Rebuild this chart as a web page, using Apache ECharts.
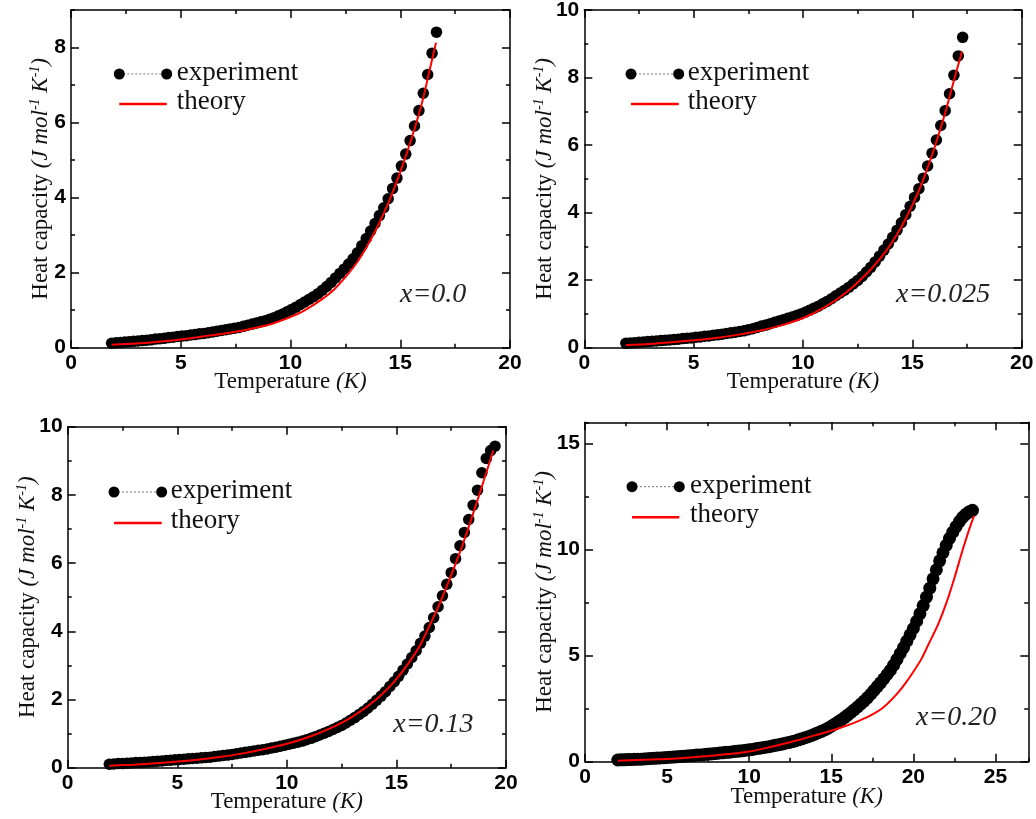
<!DOCTYPE html>
<html><head><meta charset="utf-8">
<script src="https://cdn.jsdelivr.net/npm/echarts@6/dist/echarts.min.js"></script>
<style>html,body{margin:0;padding:0;background:#fff}#c{width:1036px;height:819px}</style>
</head><body><div id="c"></div>
<script>
// ---------- data ----------
const legendNames = ['experiment', 'theory'];
const noteLabels = ['x=0.0', 'x=0.025', 'x=0.13', 'x=0.20'];
const xAxisTitle = 'Temperature';
const yAxisTitle = 'Heat capacity';

// panel 1 : x = 0.0
const tExp1 = [1.85,2.05,2.25,2.45,2.65,2.85,3.05,3.25,3.45,3.65,3.85,4.05,4.25,4.45,4.65,4.85,5.05,5.25,5.45,5.65,
  5.85,6.05,6.25,6.45,6.65,6.85,7.05,7.25,7.45,7.65,7.85,8.05,8.25,8.45,8.65,8.85,9.05,9.25,9.45,9.65,
  9.85,10.05,10.25,10.45,10.65,10.85,11.05,11.25,11.45,11.65,11.85,12.05,12.25,12.45,12.65,12.85,13.05,13.25,13.45,13.65,
  13.85,14.05,14.25,14.45,14.65,14.85,15.05,15.25,15.45,15.65,15.85,16.05,16.25,16.45,16.65];
const cExp1 = [0.12,0.13,0.14,0.15,0.16,0.17,0.18,0.19,0.20,0.21,0.23,0.24,0.25,0.27,0.28,0.30,0.31,0.32,0.34,0.35,
  0.37,0.38,0.40,0.42,0.44,0.46,0.48,0.50,0.52,0.54,0.57,0.60,0.63,0.66,0.69,0.72,0.76,0.80,0.85,0.90,
  0.96,1.02,1.08,1.15,1.22,1.29,1.36,1.44,1.53,1.63,1.74,1.86,1.98,2.10,2.23,2.37,2.53,2.72,2.91,3.11,
  3.31,3.52,3.73,3.97,4.24,4.52,4.84,5.16,5.52,5.91,6.32,6.78,7.28,7.85,8.41];
const tTh1 = [1.85,3,4,5,6,7,8,9,10,10.5,11,11.5,12,12.5,13,13.5,14,14.5,15,15.5,16,16.3,16.63];
const cTh1 = [0.08,0.11,0.16,0.22,0.30,0.38,0.48,0.61,0.82,0.95,1.12,1.32,1.56,1.88,2.25,2.72,3.27,3.92,4.68,5.55,6.55,7.30,8.13];

// panel 2 : x = 0.025
const tExp2 = [1.9,2.1,2.3,2.5,2.7,2.9,3.1,3.3,3.5,3.7,3.9,4.1,4.3,4.5,4.7,4.9,5.1,5.3,5.5,5.7,
  5.9,6.1,6.3,6.5,6.7,6.9,7.1,7.3,7.5,7.7,7.9,8.1,8.3,8.5,8.7,8.9,9.1,9.3,9.5,9.7,
  9.9,10.1,10.3,10.5,10.7,10.9,11.1,11.3,11.5,11.7,11.9,12.1,12.3,12.5,12.7,12.9,13.1,13.3,13.5,13.7,
  13.9,14.1,14.3,14.5,14.7,14.9,15.1,15.3,15.5,15.7,15.9,16.1,16.3,16.5,16.7,16.9,17.1,17.3];
const cExp2 = [0.13,0.14,0.15,0.16,0.17,0.18,0.19,0.20,0.21,0.22,0.23,0.24,0.25,0.27,0.28,0.29,0.31,0.32,0.34,0.35,
  0.37,0.38,0.40,0.42,0.44,0.46,0.48,0.50,0.53,0.56,0.60,0.64,0.67,0.71,0.75,0.79,0.83,0.87,0.91,0.95,
  1.00,1.05,1.11,1.17,1.23,1.30,1.37,1.45,1.54,1.62,1.70,1.79,1.89,1.99,2.11,2.24,2.38,2.54,2.71,2.89,
  3.07,3.27,3.48,3.70,3.94,4.19,4.45,4.71,5.02,5.38,5.76,6.15,6.58,7.02,7.52,8.07,8.64,9.19];
const tTh2 = [1.9,3,4,5,6,7,8,9,10,11,12,13,13.5,14,14.5,15,15.5,16,16.5,17,17.27];
const cTh2 = [0.08,0.11,0.16,0.22,0.29,0.38,0.50,0.66,0.88,1.20,1.65,2.25,2.62,3.05,3.58,4.22,4.98,5.90,6.95,8.15,8.77];

// panel 3 : x = 0.13
const tExp3 = [1.9,2.1,2.3,2.5,2.7,2.9,3.1,3.3,3.5,3.7,3.9,4.1,4.3,4.5,4.7,4.9,5.1,5.3,5.5,5.7,
  5.9,6.1,6.3,6.5,6.7,6.9,7.1,7.3,7.5,7.7,7.9,8.1,8.3,8.5,8.7,8.9,9.1,9.3,9.5,9.7,
  9.9,10.1,10.3,10.5,10.7,10.9,11.1,11.3,11.5,11.7,11.9,12.1,12.3,12.5,12.7,12.9,13.1,13.3,13.5,13.7,
  13.9,14.1,14.3,14.5,14.7,14.9,15.1,15.3,15.5,15.7,15.9,16.1,16.3,16.5,16.7,16.9,17.1,17.3,17.5,17.7,
  17.9,18.1,18.3,18.5,18.7,18.9,19.1,19.3,19.5];
const cExp3 = [0.10,0.11,0.12,0.12,0.13,0.14,0.15,0.15,0.16,0.17,0.18,0.19,0.20,0.21,0.22,0.23,0.24,0.25,0.26,0.27,
  0.28,0.29,0.30,0.31,0.33,0.34,0.36,0.37,0.39,0.41,0.43,0.45,0.47,0.49,0.51,0.53,0.55,0.58,0.60,0.63,
  0.66,0.69,0.72,0.75,0.78,0.82,0.86,0.91,0.96,1.01,1.06,1.12,1.18,1.24,1.31,1.39,1.47,1.56,1.65,1.75,
  1.86,1.98,2.10,2.23,2.38,2.52,2.68,2.86,3.04,3.23,3.43,3.65,3.86,4.11,4.40,4.72,5.04,5.38,5.72,6.13,
  6.51,6.90,7.28,7.70,8.14,8.65,9.07,9.30,9.43];
const tTh3 = [1.9,3,4,5,6,7,8,9,10,11,12,13,14,15,16,16.5,17,17.5,18,18.5,19,19.42];
const cTh3 = [0.06,0.09,0.13,0.18,0.24,0.32,0.42,0.55,0.70,0.90,1.16,1.50,1.96,2.60,3.50,4.15,4.85,5.65,6.50,7.45,8.45,9.30];

// panel 4 : x = 0.20
const tExp4 = [2.0,2.2,2.4,2.6,2.8,3.0,3.2,3.4,3.6,3.8,4.0,4.2,4.4,4.6,4.8,5.0,5.2,5.4,5.6,5.8,
  6.0,6.2,6.4,6.6,6.8,7.0,7.2,7.4,7.6,7.8,8.0,8.2,8.4,8.6,8.8,9.0,9.2,9.4,9.6,9.8,
  10.0,10.2,10.4,10.6,10.8,11.0,11.2,11.4,11.6,11.8,12.0,12.2,12.4,12.6,12.8,13.0,13.2,13.4,13.6,13.8,
  14.0,14.2,14.4,14.6,14.8,15.0,15.2,15.4,15.6,15.8,16.0,16.2,16.4,16.6,16.8,17.0,17.2,17.4,17.6,17.8,
  18.0,18.2,18.4,18.6,18.8,19.0,19.2,19.4,19.6,19.8,20.0,20.2,20.4,20.6,20.8,21.0,21.2,21.4,21.6,21.8,
  22.0,22.2,22.4,22.6,22.8,23.0,23.2,23.4,23.6];
const cExp4 = [0.08,0.09,0.09,0.10,0.10,0.11,0.12,0.12,0.13,0.14,0.15,0.16,0.17,0.18,0.19,0.20,0.21,0.22,0.23,0.25,
  0.26,0.27,0.28,0.29,0.31,0.32,0.33,0.35,0.36,0.38,0.39,0.41,0.42,0.44,0.45,0.47,0.49,0.50,0.52,0.54,
  0.56,0.58,0.61,0.63,0.66,0.68,0.71,0.74,0.77,0.80,0.83,0.87,0.90,0.94,0.98,1.03,1.08,1.13,1.18,1.24,
  1.30,1.37,1.43,1.50,1.58,1.67,1.77,1.87,1.97,2.08,2.20,2.32,2.45,2.58,2.72,2.86,3.01,3.18,3.36,3.54,
  3.72,3.91,4.11,4.31,4.55,4.82,5.10,5.38,5.68,5.98,6.28,6.62,6.98,7.36,7.76,8.18,8.62,9.05,9.47,9.85,
  10.20,10.53,10.82,11.08,11.32,11.52,11.67,11.78,11.85];
const tTh4 = [2,4,6,8,10,11,12,13,14,15,16,16.6,17.4,18.2,19,19.5,20,20.5,21,21.5,22,22.5,23,23.4,23.7];
const cTh4 = [0.05,0.10,0.18,0.30,0.48,0.64,0.82,1.02,1.24,1.46,1.72,1.90,2.18,2.58,3.20,3.68,4.24,4.86,5.66,6.46,7.46,8.66,9.98,10.95,11.60];

// axis ranges / ticks
const xMaxes = [20, 20, 20, 27];
const yMaxes = [9, 10, 10, 16];
const xIntervals = [5, 5, 5, 5];
const yIntervals = [2, 2, 2, 5];
const xMinorIntervals = [2.5, 2.5, 2.5, 2.5];
const yMinorIntervals = [1, 1, 1, 2.5];

// ---------- layout / style ----------
const SERIF = '"Liberation Serif", "Times New Roman", serif';
const SANS = '"Liberation Sans", Arial, sans-serif';
const layout = [
  {rect:[71,10,439,337.7],      yGap:17,   xGap:21, leg:[119.3,166.7,74,104,176.7],  note:[400,296.7],   dot:11.5},
  {rect:[584.3,10,437.4,337.7], yGap:26,   xGap:21, leg:[631,678.7,74,104,687.7],    note:[896,296.7],   dot:11.5},
  {rect:[67.7,426.7,438.3,341], yGap:26.5, xGap:21, leg:[114,161.7,492,523,170.7],   note:[393.3,726.7], dot:11.5},
  {rect:[585,422.3,443.3,339.4],yGap:27,   xGap:22, leg:[632,679.3,486.7,517.3,690], note:[916,720],     dot:13}
];
const expT = [tExp1, tExp2, tExp3, tExp4], expC = [cExp1, cExp2, cExp3, cExp4];
const thT = [tTh1, tTh2, tTh3, tTh4], thC = [cTh1, cTh2, cTh3, cTh4];

const grids = [], xAxes = [], yAxes = [], series = [], graphics = [];
const lineCol = '#000';

function pairs(t, c) { return t.map((v, i) => [v, c[i]]); }

function makeAxis(dim, gi, pos, max, interval, major, withLabel, name, gap, isMaxMultiple) {
  const ax = {
    type: 'value', gridIndex: gi, position: pos, min: 0, max: max, interval: interval,
    splitLine: {show: false},
    axisLine: {show: major, onZero: false, lineStyle: {color: lineCol, width: 1.5}},
    axisTick: {show: true, inside: true, length: major ? 8 : 4, lineStyle: {color: lineCol, width: 1.5}},
    axisLabel: {show: withLabel, margin: 5, fontFamily: SANS, fontWeight: 'bold', fontSize: 21, color: '#000',
      showMaxLabel: isMaxMultiple ? null : false},
    axisPointer: {show: false}
  };
  if (name) {
    ax.name = name; ax.nameLocation = 'middle'; ax.nameGap = gap;
    ax.nameMoveOverlap = false;
    if (dim === 'y') ax.nameRotate = 90;
    ax.nameTextStyle = {
      fontFamily: SERIF, fontSize: 23, color: '#111', lineHeight: 26,
      rich: {
        n: {fontFamily: SERIF, fontSize: 23, color: '#111', lineHeight: 26},
        i: {fontFamily: SERIF, fontSize: 23, fontStyle: 'italic', color: '#111', lineHeight: 26},
        s: {fontFamily: SERIF, fontSize: 14, fontStyle: 'italic', color: '#111', lineHeight: 14, verticalAlign: 'top'}
      }
    };
  }
  return ax;
}

for (let p = 0; p < 4; p++) {
  const L = layout[p];
  const [l, t, w, h] = L.rect;
  grids.push({left: l, top: t, width: w, height: h, containLabel: false, outerBoundsMode: 'none'});
  grids.push({left: l, top: t, width: w, height: h, containLabel: false, outerBoundsMode: 'none'});
  const gMaj = 2 * p, gMin = 2 * p + 1;
  const xm = xMaxes[p] % xIntervals[p] === 0, ym = yMaxes[p] % yIntervals[p] === 0;
  const xi = xAxes.length, yi = yAxes.length;
  xAxes.push(makeAxis('x', gMaj, 'bottom', xMaxes[p], xIntervals[p], true, true,
    '{n|' + xAxisTitle + ' }{i|(K)}', L.xGap, xm));
  xAxes.push(makeAxis('x', gMaj, 'top', xMaxes[p], xIntervals[p], true, false, null, 0, xm));
  xAxes.push(makeAxis('x', gMin, 'bottom', xMaxes[p], xMinorIntervals[p], false, false, null, 0, true));
  xAxes.push(makeAxis('x', gMin, 'top', xMaxes[p], xMinorIntervals[p], false, false, null, 0, true));
  yAxes.push(makeAxis('y', gMaj, 'left', yMaxes[p], yIntervals[p], true, true,
    '{n|' + yAxisTitle + ' }{i|(J mol}{s|-1}{i| K}{s|-1}{i|)}', L.yGap, ym));
  yAxes.push(makeAxis('y', gMaj, 'right', yMaxes[p], yIntervals[p], true, false, null, 0, ym));
  yAxes.push(makeAxis('y', gMin, 'left', yMaxes[p], yMinorIntervals[p], false, false, null, 0, true));
  yAxes.push(makeAxis('y', gMin, 'right', yMaxes[p], yMinorIntervals[p], false, false, null, 0, true));

  series.push({
    name: legendNames[0], type: 'scatter', xAxisIndex: xi, yAxisIndex: yi,
    data: pairs(expT[p], expC[p]), symbol: 'circle', symbolSize: L.dot,
    itemStyle: {color: '#000', opacity: 1}, silent: true, animation: false, z: 2
  });
  series.push({
    name: legendNames[1], type: 'line', xAxisIndex: xi, yAxisIndex: yi,
    data: pairs(thT[p], thC[p]), showSymbol: false, smooth: 0.3,
    lineStyle: {color: '#ff0000', width: 2}, silent: true, animation: false, z: 3
  });

  const [x1, x2, ye, yt, tx] = L.leg;
  graphics.push({type: 'line', shape: {x1: x1, y1: ye, x2: x2, y2: ye},
    style: {stroke: '#777', lineWidth: 1, lineDash: [2, 2]}, z: 10});
  graphics.push({type: 'circle', shape: {cx: x1, cy: ye, r: 5.5}, style: {fill: '#000'}, z: 11});
  graphics.push({type: 'circle', shape: {cx: x2, cy: ye, r: 5.5}, style: {fill: '#000'}, z: 11});
  graphics.push({type: 'text', x: tx, y: ye - 1, style: {text: legendNames[0], font: '27px ' + SERIF, fill: '#111',
    textAlign: 'left', textVerticalAlign: 'middle', align: 'left', verticalAlign: 'middle'}, z: 11});
  graphics.push({type: 'line', shape: {x1: x1, y1: yt, x2: x2, y2: yt},
    style: {stroke: '#ff0000', lineWidth: 2.5}, z: 10});
  graphics.push({type: 'text', x: tx, y: yt - 2, style: {text: legendNames[1], font: '27px ' + SERIF, fill: '#111',
    textAlign: 'left', textVerticalAlign: 'middle', align: 'left', verticalAlign: 'middle'}, z: 11});
  graphics.push({type: 'text', x: L.note[0], y: L.note[1] - 2, style: {text: noteLabels[p], font: 'italic 28px ' + SERIF,
    fill: '#222', textAlign: 'left', textVerticalAlign: 'middle', align: 'left', verticalAlign: 'middle'}, z: 11});
}

const chart = echarts.init(document.getElementById('c'), null, {renderer: 'canvas'});
chart.setOption({
  backgroundColor: '#fff',
  animation: false,
  grid: grids, xAxis: xAxes, yAxis: yAxes, series: series,
  graphic: {elements: graphics}
});
</script>
</body></html>
